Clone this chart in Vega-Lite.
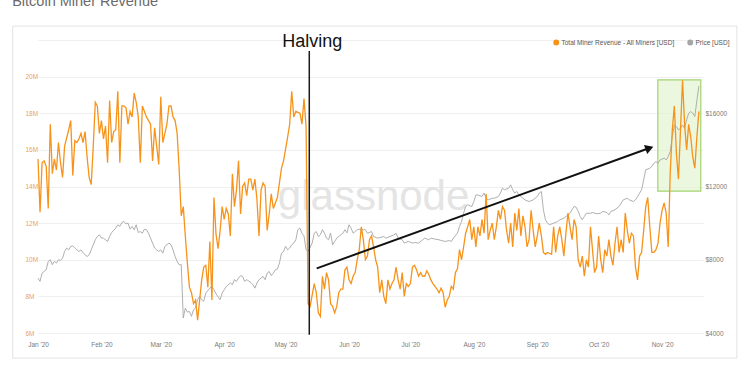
{
  "$schema": "https://vega.github.io/schema/vega-lite/v6.json",
  "width": 665,
  "height": 293,
  "autosize": {"type": "none"},
  "padding": {"left": 38, "top": 40, "right": 47, "bottom": 42},
  "background": "white",
  "title": {"text": "Bitcoin Miner Revenue", "anchor": "start", "frame": "bounds", "offset": 5, "fontSize": 14.5, "fontWeight": "normal", "color": "#6b6b6b", "font": "Liberation Sans", "baseline": "alphabetic"},
  "config": {"font": "Liberation Sans", "view": {"stroke": null}},
  "datasets": {
    "revenue": [
      {"date":"2020-01-01","usd_m":15.5},{"date":"2020-01-02","usd_m":12.6},{"date":"2020-01-03","usd_m":15.3},{"date":"2020-01-04","usd_m":15.4},{"date":"2020-01-05","usd_m":15.1},{"date":"2020-01-06","usd_m":12.8},{"date":"2020-01-07","usd_m":17.4},{"date":"2020-01-08","usd_m":14.7},{"date":"2020-01-09","usd_m":15.5},{"date":"2020-01-10","usd_m":14.9},{"date":"2020-01-11","usd_m":16.4},{"date":"2020-01-12","usd_m":15.3},{"date":"2020-01-13","usd_m":14.5},{"date":"2020-01-14","usd_m":16.2},{"date":"2020-01-16","usd_m":17.1},{"date":"2020-01-17","usd_m":17.6},{"date":"2020-01-18","usd_m":14.6},{"date":"2020-01-19","usd_m":16.5},{"date":"2020-01-20","usd_m":16.4},{"date":"2020-01-21","usd_m":16.6},{"date":"2020-01-22","usd_m":16.9},{"date":"2020-01-23","usd_m":16.4},{"date":"2020-01-24","usd_m":17.0},{"date":"2020-01-25","usd_m":15.6},{"date":"2020-01-26","usd_m":14.5},{"date":"2020-01-27","usd_m":14.1},{"date":"2020-01-28","usd_m":16.2},{"date":"2020-01-29","usd_m":18.6},{"date":"2020-01-30","usd_m":18.4},{"date":"2020-01-31","usd_m":16.9},
      {"date":"2020-02-01","usd_m":17.6},{"date":"2020-02-02","usd_m":16.6},{"date":"2020-02-03","usd_m":17.3},{"date":"2020-02-04","usd_m":15.3},{"date":"2020-02-05","usd_m":18.7},{"date":"2020-02-06","usd_m":16.4},{"date":"2020-02-07","usd_m":17.0},{"date":"2020-02-08","usd_m":17.1},{"date":"2020-02-09","usd_m":19.2},{"date":"2020-02-10","usd_m":15.3},{"date":"2020-02-11","usd_m":18.4},{"date":"2020-02-12","usd_m":18.4},{"date":"2020-02-13","usd_m":18.3},{"date":"2020-02-14","usd_m":17.4},{"date":"2020-02-15","usd_m":18.1},{"date":"2020-02-16","usd_m":17.8},{"date":"2020-02-17","usd_m":19.1},{"date":"2020-02-18","usd_m":18.6},{"date":"2020-02-19","usd_m":17.8},{"date":"2020-02-20","usd_m":15.3},{"date":"2020-02-21","usd_m":18.4},{"date":"2020-02-23","usd_m":17.8},{"date":"2020-02-25","usd_m":17.4},{"date":"2020-02-26","usd_m":15.4},{"date":"2020-02-27","usd_m":17.2},{"date":"2020-02-28","usd_m":16.2},{"date":"2020-02-29","usd_m":15.2},
      {"date":"2020-03-01","usd_m":18.9},{"date":"2020-03-02","usd_m":16.4},{"date":"2020-03-04","usd_m":17.4},{"date":"2020-03-05","usd_m":18.4},{"date":"2020-03-06","usd_m":18.4},{"date":"2020-03-07","usd_m":17.8},{"date":"2020-03-08","usd_m":17.6},{"date":"2020-03-09","usd_m":16.9},{"date":"2020-03-10","usd_m":14.9},{"date":"2020-03-11","usd_m":12.4},{"date":"2020-03-12","usd_m":12.9},{"date":"2020-03-13","usd_m":11.3},{"date":"2020-03-14","usd_m":9.8},{"date":"2020-03-15","usd_m":8.5},{"date":"2020-03-16","usd_m":8.2},{"date":"2020-03-17","usd_m":7.6},{"date":"2020-03-18","usd_m":7.8},{"date":"2020-03-19","usd_m":6.7},{"date":"2020-03-20","usd_m":7.8},{"date":"2020-03-21","usd_m":8.9},{"date":"2020-03-22","usd_m":9.6},{"date":"2020-03-23","usd_m":9.7},{"date":"2020-03-24","usd_m":8.5},{"date":"2020-03-25","usd_m":11.0},{"date":"2020-03-26","usd_m":7.8},{"date":"2020-03-27","usd_m":13.4},{"date":"2020-03-28","usd_m":11.4},{"date":"2020-03-29","usd_m":10.6},{"date":"2020-03-30","usd_m":11.6},{"date":"2020-03-31","usd_m":12.9},
      {"date":"2020-04-01","usd_m":12.2},{"date":"2020-04-02","usd_m":12.8},{"date":"2020-04-03","usd_m":12.5},{"date":"2020-04-04","usd_m":11.3},{"date":"2020-04-05","usd_m":14.7},{"date":"2020-04-06","usd_m":12.9},{"date":"2020-04-07","usd_m":13.8},{"date":"2020-04-08","usd_m":15.4},{"date":"2020-04-09","usd_m":12.5},{"date":"2020-04-10","usd_m":14.0},{"date":"2020-04-11","usd_m":14.2},{"date":"2020-04-12","usd_m":13.5},{"date":"2020-04-13","usd_m":14.4},{"date":"2020-04-14","usd_m":14.4},{"date":"2020-04-15","usd_m":13.8},{"date":"2020-04-16","usd_m":14.4},{"date":"2020-04-17","usd_m":13.3},{"date":"2020-04-18","usd_m":11.3},{"date":"2020-04-19","usd_m":13.8},{"date":"2020-04-20","usd_m":14.2},{"date":"2020-04-21","usd_m":14.0},{"date":"2020-04-22","usd_m":11.6},{"date":"2020-04-23","usd_m":12.5},{"date":"2020-04-24","usd_m":13.6},{"date":"2020-04-25","usd_m":12.8},{"date":"2020-04-27","usd_m":13.4},{"date":"2020-04-28","usd_m":14.2},{"date":"2020-04-29","usd_m":15.0},{"date":"2020-04-30","usd_m":15.4},
      {"date":"2020-05-02","usd_m":16.7},{"date":"2020-05-03","usd_m":17.4},{"date":"2020-05-04","usd_m":19.2},{"date":"2020-05-05","usd_m":17.8},{"date":"2020-05-06","usd_m":18.1},{"date":"2020-05-08","usd_m":18.0},{"date":"2020-05-09","usd_m":17.4},{"date":"2020-05-10","usd_m":18.8},{"date":"2020-05-11","usd_m":17.3},{"date":"2020-05-12","usd_m":7.6},{"date":"2020-05-13","usd_m":7.45},{"date":"2020-05-15","usd_m":8.7},{"date":"2020-05-16","usd_m":8.2},{"date":"2020-05-17","usd_m":7.1},{"date":"2020-05-18","usd_m":6.9},{"date":"2020-05-19","usd_m":9.1},{"date":"2020-05-20","usd_m":8.4},{"date":"2020-05-21","usd_m":9.3},{"date":"2020-05-22","usd_m":8.9},{"date":"2020-05-23","usd_m":7.6},{"date":"2020-05-24","usd_m":7.45},{"date":"2020-05-25","usd_m":7.1},{"date":"2020-05-26","usd_m":7.45},{"date":"2020-05-27","usd_m":8.2},{"date":"2020-05-28","usd_m":8.4},{"date":"2020-05-29","usd_m":8.4},{"date":"2020-05-30","usd_m":9.45},{"date":"2020-05-31","usd_m":9.6},
      {"date":"2020-06-01","usd_m":8.9},{"date":"2020-06-02","usd_m":8.7},{"date":"2020-06-03","usd_m":9.1},{"date":"2020-06-04","usd_m":9.3},{"date":"2020-06-05","usd_m":10.0},{"date":"2020-06-06","usd_m":10.55},{"date":"2020-06-07","usd_m":11.8},{"date":"2020-06-08","usd_m":11.1},{"date":"2020-06-09","usd_m":10.0},{"date":"2020-06-10","usd_m":10.2},{"date":"2020-06-11","usd_m":11.1},{"date":"2020-06-12","usd_m":11.3},{"date":"2020-06-13","usd_m":10.7},{"date":"2020-06-14","usd_m":10.0},{"date":"2020-06-15","usd_m":9.6},{"date":"2020-06-16","usd_m":8.2},{"date":"2020-06-17","usd_m":8.9},{"date":"2020-06-18","usd_m":8.0},{"date":"2020-06-19","usd_m":7.6},{"date":"2020-06-20","usd_m":8.9},{"date":"2020-06-21","usd_m":8.4},{"date":"2020-06-22","usd_m":8.7},{"date":"2020-06-23","usd_m":8.9},{"date":"2020-06-24","usd_m":9.6},{"date":"2020-06-25","usd_m":8.9},{"date":"2020-06-26","usd_m":8.4},{"date":"2020-06-27","usd_m":9.3},{"date":"2020-06-28","usd_m":8.0},{"date":"2020-06-29","usd_m":8.7},{"date":"2020-06-30","usd_m":8.55},
      {"date":"2020-07-01","usd_m":8.7},{"date":"2020-07-02","usd_m":9.6},{"date":"2020-07-03","usd_m":9.7},{"date":"2020-07-04","usd_m":9.45},{"date":"2020-07-05","usd_m":9.1},{"date":"2020-07-06","usd_m":9.3},{"date":"2020-07-07","usd_m":9.1},{"date":"2020-07-08","usd_m":9.1},{"date":"2020-07-09","usd_m":9.4},{"date":"2020-07-10","usd_m":9.2},{"date":"2020-07-11","usd_m":8.9},{"date":"2020-07-12","usd_m":8.7},{"date":"2020-07-13","usd_m":8.55},{"date":"2020-07-14","usd_m":8.4},{"date":"2020-07-15","usd_m":8.2},{"date":"2020-07-16","usd_m":8.45},{"date":"2020-07-17","usd_m":8.2},{"date":"2020-07-18","usd_m":7.4},{"date":"2020-07-19","usd_m":7.8},{"date":"2020-07-20","usd_m":8.0},{"date":"2020-07-21","usd_m":8.55},{"date":"2020-07-22","usd_m":8.4},{"date":"2020-07-23","usd_m":9.3},{"date":"2020-07-24","usd_m":9.5},{"date":"2020-07-25","usd_m":10.55},{"date":"2020-07-26","usd_m":10.0},{"date":"2020-07-27","usd_m":10.7},{"date":"2020-07-28","usd_m":11.45},{"date":"2020-07-29","usd_m":11.8},{"date":"2020-07-30","usd_m":12.2},{"date":"2020-07-31","usd_m":11.1},
      {"date":"2020-08-01","usd_m":11.8},{"date":"2020-08-02","usd_m":10.7},{"date":"2020-08-03","usd_m":11.8},{"date":"2020-08-04","usd_m":11.3},{"date":"2020-08-05","usd_m":12.2},{"date":"2020-08-06","usd_m":11.45},{"date":"2020-08-07","usd_m":13.6},{"date":"2020-08-08","usd_m":11.1},{"date":"2020-08-09","usd_m":11.6},{"date":"2020-08-10","usd_m":12.0},{"date":"2020-08-11","usd_m":11.1},{"date":"2020-08-12","usd_m":11.8},{"date":"2020-08-13","usd_m":12.7},{"date":"2020-08-14","usd_m":12.2},{"date":"2020-08-15","usd_m":12.9},{"date":"2020-08-16","usd_m":12.7},{"date":"2020-08-17","usd_m":11.6},{"date":"2020-08-18","usd_m":10.9},{"date":"2020-08-19","usd_m":12.0},{"date":"2020-08-20","usd_m":10.7},{"date":"2020-08-21","usd_m":12.55},{"date":"2020-08-22","usd_m":11.6},{"date":"2020-08-23","usd_m":12.8},{"date":"2020-08-24","usd_m":11.3},{"date":"2020-08-25","usd_m":12.4},{"date":"2020-08-26","usd_m":11.8},{"date":"2020-08-27","usd_m":10.7},{"date":"2020-08-28","usd_m":11.1},{"date":"2020-08-29","usd_m":12.7},{"date":"2020-08-30","usd_m":11.6},{"date":"2020-08-31","usd_m":10.7},
      {"date":"2020-09-01","usd_m":11.3},{"date":"2020-09-02","usd_m":12.0},{"date":"2020-09-03","usd_m":11.3},{"date":"2020-09-04","usd_m":10.4},{"date":"2020-09-05","usd_m":10.3},{"date":"2020-09-06","usd_m":10.4},{"date":"2020-09-08","usd_m":10.3},{"date":"2020-09-09","usd_m":11.8},{"date":"2020-09-10","usd_m":10.4},{"date":"2020-09-11","usd_m":11.3},{"date":"2020-09-12","usd_m":11.8},{"date":"2020-09-13","usd_m":11.1},{"date":"2020-09-14","usd_m":10.2},{"date":"2020-09-15","usd_m":11.45},{"date":"2020-09-16","usd_m":12.55},{"date":"2020-09-17","usd_m":11.8},{"date":"2020-09-18","usd_m":11.1},{"date":"2020-09-19","usd_m":12.2},{"date":"2020-09-20","usd_m":11.8},{"date":"2020-09-21","usd_m":10.0},{"date":"2020-09-22","usd_m":9.6},{"date":"2020-09-23","usd_m":10.2},{"date":"2020-09-24","usd_m":9.1},{"date":"2020-09-25","usd_m":10.0},{"date":"2020-09-26","usd_m":9.6},{"date":"2020-09-27","usd_m":11.8},{"date":"2020-09-28","usd_m":10.55},{"date":"2020-09-29","usd_m":9.3},{"date":"2020-09-30","usd_m":9.6},
      {"date":"2020-10-01","usd_m":11.3},{"date":"2020-10-02","usd_m":10.0},{"date":"2020-10-03","usd_m":9.3},{"date":"2020-10-04","usd_m":10.55},{"date":"2020-10-05","usd_m":10.2},{"date":"2020-10-06","usd_m":11.1},{"date":"2020-10-07","usd_m":10.2},{"date":"2020-10-08","usd_m":9.7},{"date":"2020-10-09","usd_m":10.9},{"date":"2020-10-10","usd_m":11.8},{"date":"2020-10-11","usd_m":10.4},{"date":"2020-10-12","usd_m":11.1},{"date":"2020-10-13","usd_m":10.4},{"date":"2020-10-14","usd_m":12.55},{"date":"2020-10-15","usd_m":11.6},{"date":"2020-10-16","usd_m":10.9},{"date":"2020-10-17","usd_m":11.45},{"date":"2020-10-18","usd_m":11.3},{"date":"2020-10-19","usd_m":9.6},{"date":"2020-10-20","usd_m":8.9},{"date":"2020-10-21","usd_m":10.2},{"date":"2020-10-22","usd_m":10.4},{"date":"2020-10-23","usd_m":11.6},{"date":"2020-10-24","usd_m":12.9},{"date":"2020-10-25","usd_m":13.4},{"date":"2020-10-26","usd_m":11.8},{"date":"2020-10-27","usd_m":10.4},{"date":"2020-10-28","usd_m":10.4},{"date":"2020-10-29","usd_m":10.55},{"date":"2020-10-30","usd_m":10.9},{"date":"2020-10-31","usd_m":12.0},
      {"date":"2020-11-01","usd_m":12.7},{"date":"2020-11-02","usd_m":13.1},{"date":"2020-11-03","usd_m":12.55},{"date":"2020-11-04","usd_m":10.7},{"date":"2020-11-05","usd_m":14.8},{"date":"2020-11-06","usd_m":17.1},{"date":"2020-11-07","usd_m":18.4},{"date":"2020-11-08","usd_m":15.8},{"date":"2020-11-09","usd_m":14.4},{"date":"2020-11-10","usd_m":17.1},{"date":"2020-11-11","usd_m":19.8},{"date":"2020-11-12","usd_m":17.4},{"date":"2020-11-13","usd_m":16.0},{"date":"2020-11-14","usd_m":17.4},{"date":"2020-11-15","usd_m":16.7},{"date":"2020-11-16","usd_m":15.6},{"date":"2020-11-17","usd_m":15.0},{"date":"2020-11-18","usd_m":16.7},{"date":"2020-11-19","usd_m":18.1}
    ],
    "price": [
      {"date":"2020-01-01","usd":7000},{"date":"2020-01-02","usd":6820},{"date":"2020-01-03","usd":7270},{"date":"2020-01-04","usd":7360},{"date":"2020-01-05","usd":7450},{"date":"2020-01-06","usd":7910},{"date":"2020-01-07","usd":8000},{"date":"2020-01-08","usd":7730},{"date":"2020-01-09","usd":7910},{"date":"2020-01-10","usd":7820},{"date":"2020-01-11","usd":8000},{"date":"2020-01-12","usd":7960},{"date":"2020-01-13","usd":8090},{"date":"2020-01-14","usd":8450},{"date":"2020-01-15","usd":8640},{"date":"2020-01-16","usd":8540},{"date":"2020-01-17","usd":8730},{"date":"2020-01-18","usd":8760},{"date":"2020-01-19","usd":8640},{"date":"2020-01-20","usd":8540},{"date":"2020-01-21","usd":8450},{"date":"2020-01-22","usd":8540},{"date":"2020-01-23","usd":8400},{"date":"2020-01-24","usd":8270},{"date":"2020-01-25","usd":8180},{"date":"2020-01-26","usd":8270},{"date":"2020-01-27","usd":8540},{"date":"2020-01-29","usd":9090},{"date":"2020-01-30","usd":9270},{"date":"2020-01-31","usd":9360},
      {"date":"2020-02-01","usd":9180},{"date":"2020-02-02","usd":9180},{"date":"2020-02-03","usd":9090},{"date":"2020-02-04","usd":9000},{"date":"2020-02-05","usd":9270},{"date":"2020-02-06","usd":9490},{"date":"2020-02-07","usd":9600},{"date":"2020-02-08","usd":9730},{"date":"2020-02-09","usd":9910},{"date":"2020-02-10","usd":9820},{"date":"2020-02-11","usd":10030},{"date":"2020-02-12","usd":10090},{"date":"2020-02-13","usd":9960},{"date":"2020-02-14","usd":10000},{"date":"2020-02-15","usd":9670},{"date":"2020-02-16","usd":9820},{"date":"2020-02-17","usd":9640},{"date":"2020-02-18","usd":9910},{"date":"2020-02-19","usd":9490},{"date":"2020-02-20","usd":9540},{"date":"2020-02-21","usd":9450},{"date":"2020-02-22","usd":9670},{"date":"2020-02-23","usd":9640},{"date":"2020-02-24","usd":9450},{"date":"2020-02-25","usd":9180},{"date":"2020-02-26","usd":8910},{"date":"2020-02-27","usd":8640},{"date":"2020-02-28","usd":8540},{"date":"2020-02-29","usd":8450},
      {"date":"2020-03-01","usd":8540},{"date":"2020-03-02","usd":8360},{"date":"2020-03-03","usd":8730},{"date":"2020-03-04","usd":8820},{"date":"2020-03-05","usd":8910},{"date":"2020-03-06","usd":8820},{"date":"2020-03-07","usd":8540},{"date":"2020-03-08","usd":8180},{"date":"2020-03-09","usd":7910},{"date":"2020-03-10","usd":7730},{"date":"2020-03-11","usd":7730},{"date":"2020-03-12","usd":4820},{"date":"2020-03-13","usd":5360},{"date":"2020-03-14","usd":5140},{"date":"2020-03-15","usd":5180},{"date":"2020-03-16","usd":4910},{"date":"2020-03-17","usd":5270},{"date":"2020-03-18","usd":5360},{"date":"2020-03-19","usd":5820},{"date":"2020-03-20","usd":6000},{"date":"2020-03-21","usd":5820},{"date":"2020-03-22","usd":5730},{"date":"2020-03-23","usd":6180},{"date":"2020-03-25","usd":6450},{"date":"2020-03-26","usd":6540},{"date":"2020-03-27","usd":6360},{"date":"2020-03-28","usd":6140},{"date":"2020-03-30","usd":5820},{"date":"2020-03-31","usd":6180},
      {"date":"2020-04-01","usd":6360},{"date":"2020-04-02","usd":6540},{"date":"2020-04-04","usd":6730},{"date":"2020-04-05","usd":6640},{"date":"2020-04-06","usd":6910},{"date":"2020-04-07","usd":6820},{"date":"2020-04-08","usd":7000},{"date":"2020-04-09","usd":7130},{"date":"2020-04-10","usd":7090},{"date":"2020-04-11","usd":6820},{"date":"2020-04-12","usd":6910},{"date":"2020-04-14","usd":6760},{"date":"2020-04-15","usd":6640},{"date":"2020-04-16","usd":6450},{"date":"2020-04-17","usd":6730},{"date":"2020-04-18","usd":6910},{"date":"2020-04-19","usd":7000},{"date":"2020-04-20","usd":7090},{"date":"2020-04-21","usd":6910},{"date":"2020-04-22","usd":7270},{"date":"2020-04-23","usd":7360},{"date":"2020-04-24","usd":7130},{"date":"2020-04-25","usd":7270},{"date":"2020-04-26","usd":7450},{"date":"2020-04-27","usd":7490},{"date":"2020-04-28","usd":7820},{"date":"2020-04-29","usd":8360},{"date":"2020-04-30","usd":8450},
      {"date":"2020-05-01","usd":8730},{"date":"2020-05-02","usd":8540},{"date":"2020-05-03","usd":8640},{"date":"2020-05-04","usd":8820},{"date":"2020-05-05","usd":8910},{"date":"2020-05-06","usd":9090},{"date":"2020-05-07","usd":9640},{"date":"2020-05-08","usd":9730},{"date":"2020-05-09","usd":9450},{"date":"2020-05-10","usd":9300},{"date":"2020-05-11","usd":8540},{"date":"2020-05-12","usd":8450},{"date":"2020-05-14","usd":8910},{"date":"2020-05-15","usd":9450},{"date":"2020-05-16","usd":9540},{"date":"2020-05-17","usd":9270},{"date":"2020-05-18","usd":9360},{"date":"2020-05-19","usd":9640},{"date":"2020-05-20","usd":9450},{"date":"2020-05-21","usd":9180},{"date":"2020-05-22","usd":9090},{"date":"2020-05-23","usd":9450},{"date":"2020-05-24","usd":8820},{"date":"2020-05-25","usd":9000},{"date":"2020-05-26","usd":9180},{"date":"2020-05-27","usd":9270},{"date":"2020-05-28","usd":9360},{"date":"2020-05-29","usd":9450},{"date":"2020-05-30","usd":9640},{"date":"2020-05-31","usd":9470},
      {"date":"2020-06-01","usd":9910},{"date":"2020-06-02","usd":9730},{"date":"2020-06-03","usd":9450},{"date":"2020-06-04","usd":9540},{"date":"2020-06-05","usd":9640},{"date":"2020-06-06","usd":9670},{"date":"2020-06-08","usd":9640},{"date":"2020-06-09","usd":9640},{"date":"2020-06-10","usd":9450},{"date":"2020-06-12","usd":9540},{"date":"2020-06-13","usd":9270},{"date":"2020-06-15","usd":9180},{"date":"2020-06-18","usd":9270},{"date":"2020-06-19","usd":9180},{"date":"2020-06-21","usd":9270},{"date":"2020-06-23","usd":9360},{"date":"2020-06-24","usd":9450},{"date":"2020-06-25","usd":9180},{"date":"2020-06-27","usd":9090},{"date":"2020-06-28","usd":8910},{"date":"2020-06-30","usd":9000},
      {"date":"2020-07-02","usd":8910},{"date":"2020-07-03","usd":8940},{"date":"2020-07-05","usd":8910},{"date":"2020-07-07","usd":9090},{"date":"2020-07-08","usd":9180},{"date":"2020-07-10","usd":9090},{"date":"2020-07-11","usd":9180},{"date":"2020-07-13","usd":9130},{"date":"2020-07-15","usd":9090},{"date":"2020-07-16","usd":9050},{"date":"2020-07-18","usd":9000},{"date":"2020-07-20","usd":9050},{"date":"2020-07-21","usd":9000},{"date":"2020-07-22","usd":9180},{"date":"2020-07-24","usd":9450},{"date":"2020-07-25","usd":9820},{"date":"2020-07-26","usd":10090},{"date":"2020-07-27","usd":10540},{"date":"2020-07-28","usd":10910},{"date":"2020-07-29","usd":11000},{"date":"2020-07-31","usd":10910},
      {"date":"2020-08-01","usd":11180},{"date":"2020-08-02","usd":11540},{"date":"2020-08-03","usd":11540},{"date":"2020-08-05","usd":11450},{"date":"2020-08-06","usd":11640},{"date":"2020-08-07","usd":11360},{"date":"2020-08-08","usd":11270},{"date":"2020-08-10","usd":11360},{"date":"2020-08-11","usd":11360},{"date":"2020-08-13","usd":11450},{"date":"2020-08-14","usd":11640},{"date":"2020-08-15","usd":11910},{"date":"2020-08-16","usd":11820},{"date":"2020-08-18","usd":11910},{"date":"2020-08-19","usd":12090},{"date":"2020-08-20","usd":11820},{"date":"2020-08-21","usd":11640},{"date":"2020-08-22","usd":11730},{"date":"2020-08-23","usd":11540},{"date":"2020-08-24","usd":11450},{"date":"2020-08-26","usd":11270},{"date":"2020-08-28","usd":11180},{"date":"2020-08-30","usd":11270},
      {"date":"2020-09-01","usd":11450},{"date":"2020-09-02","usd":11640},{"date":"2020-09-03","usd":11730},{"date":"2020-09-04","usd":10730},{"date":"2020-09-05","usd":10180},{"date":"2020-09-06","usd":10000},{"date":"2020-09-07","usd":9910},{"date":"2020-09-09","usd":10000},{"date":"2020-09-11","usd":10090},{"date":"2020-09-12","usd":10180},{"date":"2020-09-14","usd":10270},{"date":"2020-09-15","usd":10360},{"date":"2020-09-17","usd":10540},{"date":"2020-09-18","usd":10730},{"date":"2020-09-19","usd":10910},{"date":"2020-09-20","usd":10870},{"date":"2020-09-21","usd":10640},{"date":"2020-09-22","usd":10360},{"date":"2020-09-23","usd":10180},{"date":"2020-09-24","usd":10360},{"date":"2020-09-25","usd":10540},{"date":"2020-09-27","usd":10540},{"date":"2020-09-28","usd":10580},{"date":"2020-09-30","usd":10510},
      {"date":"2020-10-02","usd":10540},{"date":"2020-10-03","usd":10640},{"date":"2020-10-05","usd":10580},{"date":"2020-10-06","usd":10450},{"date":"2020-10-07","usd":10640},{"date":"2020-10-09","usd":10730},{"date":"2020-10-11","usd":10910},{"date":"2020-10-12","usd":11090},{"date":"2020-10-13","usd":11270},{"date":"2020-10-15","usd":11360},{"date":"2020-10-16","usd":11270},{"date":"2020-10-18","usd":11180},{"date":"2020-10-19","usd":11270},{"date":"2020-10-20","usd":11450},{"date":"2020-10-22","usd":11820},{"date":"2020-10-23","usd":12360},{"date":"2020-10-24","usd":12910},{"date":"2020-10-26","usd":13000},{"date":"2020-10-27","usd":13090},{"date":"2020-10-28","usd":13270},{"date":"2020-10-29","usd":13360},{"date":"2020-10-30","usd":13270},{"date":"2020-10-31","usd":13450},
      {"date":"2020-11-02","usd":13550},{"date":"2020-11-03","usd":13450},{"date":"2020-11-04","usd":13640},{"date":"2020-11-05","usd":13910},{"date":"2020-11-06","usd":14730},{"date":"2020-11-07","usd":15360},{"date":"2020-11-08","usd":15270},{"date":"2020-11-09","usd":15090},{"date":"2020-11-10","usd":15180},{"date":"2020-11-11","usd":15360},{"date":"2020-11-12","usd":15180},{"date":"2020-11-13","usd":15640},{"date":"2020-11-14","usd":16000},{"date":"2020-11-15","usd":16090},{"date":"2020-11-16","usd":16000},{"date":"2020-11-17","usd":15820},{"date":"2020-11-18","usd":16700},{"date":"2020-11-19","usd":17490}
    ],
    "card": [{"date": "2019-12-19T15:00:00Z", "date_end": "2020-12-07T14:00:00Z"}],
    "watermark": [{"date": "2020-06-13T00:00:00Z", "label": "glassnode"}],
    "highlight": [{"date": "2020-10-29T22:00:00Z", "date_end": "2020-11-19T22:00:00Z"}],
    "halving": [{"date": "2020-05-12T14:00:00Z", "event": "Halving"}],
    "trend": [
      {"date": "2020-05-16T05:00:00Z", "usd_m": 9.53},
      {"date": "2020-10-25T20:00:00Z", "usd_m": 16.1}
    ],
    "trend_head": [{"date": "2020-10-25T20:00:00Z", "usd_m": 16.1}]
  },
  "encoding": {
    "x": {
      "field": "date", "type": "temporal",
      "scale": {"type": "utc", "domain": [{"year": 2020, "month": 1, "date": 1, "utc": true}, {"year": 2020, "month": 11, "date": 21, "utc": true}]},
      "axis": {
        "values": [
          {"year": 2020, "month": 1, "date": 1, "utc": true}, {"year": 2020, "month": 2, "date": 1, "utc": true}, {"year": 2020, "month": 3, "date": 1, "utc": true}, {"year": 2020, "month": 4, "date": 1, "utc": true}, {"year": 2020, "month": 5, "date": 1, "utc": true}, {"year": 2020, "month": 6, "date": 1, "utc": true}, {"year": 2020, "month": 7, "date": 1, "utc": true}, {"year": 2020, "month": 8, "date": 1, "utc": true}, {"year": 2020, "month": 9, "date": 1, "utc": true}, {"year": 2020, "month": 10, "date": 1, "utc": true}, {"year": 2020, "month": 11, "date": 1, "utc": true}
        ],
        "format": "%b '%y", "title": null, "domain": false, "ticks": false, "tickSize": 0, "grid": false,
        "labelColor": "#7a7a7a", "labelFontSize": 6.5, "labelFont": "Liberation Sans", "labelPadding": 8, "labelFlush": false, "labelOverlap": false
      }
    }
  },
  "resolve": {"scale": {"y": "independent"}, "axis": {"y": "independent"}},
  "layer": [
    {
      "data": {"name": "card"},
      "mark": {"type": "rect", "fill": "white", "fillOpacity": 0, "stroke": "#e2e2e2", "strokeWidth": 1},
      "encoding": {
        "x2": {"field": "date_end"},
        "y": {"datum": 22.76, "type": "quantitative", "scale": {"domain": [6, 22], "nice": false, "zero": false}, "axis": null},
        "y2": {"datum": 4.63}
      }
    },
    {
      "data": {"name": "watermark"},
      "mark": {"type": "text", "fontSize": 42, "color": "#e4e4e4", "align": "center", "baseline": "alphabetic", "font": "Liberation Sans"},
      "encoding": {
        "y": {"datum": 12.72, "type": "quantitative", "scale": {"domain": [6, 22], "nice": false, "zero": false}, "axis": null},
        "text": {"field": "label"}
      }
    },
    {
      "data": {"name": "highlight"},
      "mark": {"type": "rect", "fill": "#e3f4d2", "fillOpacity": 0.7, "stroke": "#a3d46e", "strokeWidth": 1.2},
      "encoding": {
        "x2": {"field": "date_end"},
        "y": {"datum": 19.82, "type": "quantitative", "scale": {"domain": [6, 22], "nice": false, "zero": false}, "axis": null},
        "y2": {"datum": 13.75}
      }
    },
    {
      "data": {"name": "price"},
      "mark": {"type": "line", "strokeWidth": 0.9},
      "encoding": {
        "y": {"field": "usd", "type": "quantitative", "scale": {"domain": [4000, 20000], "nice": false, "zero": false},
          "axis": {"orient": "right", "values": [4000, 8000, 12000, 16000], "format": "$d", "title": null, "grid": false, "domain": false, "ticks": false, "tickSize": 0, "labelPadding": 2, "labelColor": "#7a7a7a", "labelFontSize": 6.5, "labelFont": "Liberation Sans"}},
        "color": {"datum": "Price [USD]", "type": "nominal"}
      }
    },
    {
      "data": {"name": "revenue"},
      "mark": {"type": "line", "strokeWidth": 1.3},
      "encoding": {
        "y": {"field": "usd_m", "type": "quantitative", "scale": {"domain": [6, 22], "nice": false, "zero": false},
          "axis": {"orient": "left", "values": [6, 8, 10, 12, 14, 16, 18, 20, 22], "labelExpr": "datum.value > 21 ? '' : datum.value + 'M'", "title": null, "grid": true, "gridColor": "#efefef", "gridWidth": 1, "domain": false, "ticks": false, "tickSize": 0, "labelAlign": "left", "labelPadding": 13, "labelColor": "#e8a45c", "labelFontSize": 6.5, "labelFont": "Liberation Sans"}},
        "color": {
          "datum": "Total Miner Revenue - All Miners [USD]", "type": "nominal",
          "scale": {"domain": ["Total Miner Revenue - All Miners [USD]", "Price [USD]"], "range": ["#f7931a", "#a6a6a6"]},
          "legend": {"orient": "none", "legendX": 515, "legendY": -1, "direction": "horizontal", "title": null, "symbolType": "circle", "symbolSize": 20, "symbolStrokeWidth": 1.5, "labelFontSize": 6.5, "labelColor": "#555555", "labelFont": "Liberation Sans", "columnPadding": 10, "labelOffset": 2, "padding": 0, "rowPadding": 0,
            "encode": {"symbols": {"update": {"fill": {"scale": "color", "field": "value"}, "opacity": {"value": 1}}}}}
        }
      }
    },
    {
      "data": {"name": "halving"},
      "mark": {"type": "rule", "color": "#1a1a1a", "strokeWidth": 1.5},
      "encoding": {
        "y": {"datum": 21.4, "type": "quantitative", "scale": {"domain": [6, 22], "nice": false, "zero": false}, "axis": null},
        "y2": {"datum": 5.9}
      }
    },
    {
      "data": {"name": "halving"},
      "mark": {"type": "text", "fontSize": 18, "color": "#111111", "align": "center", "baseline": "alphabetic", "dx": 3, "font": "Liberation Sans"},
      "encoding": {
        "y": {"datum": 21.6, "type": "quantitative", "scale": {"domain": [6, 22], "nice": false, "zero": false}, "axis": null},
        "text": {"field": "event"}
      }
    },
    {
      "data": {"name": "trend"},
      "mark": {"type": "line", "color": "#111111", "strokeWidth": 2},
      "encoding": {
        "y": {"field": "usd_m", "type": "quantitative", "scale": {"domain": [6, 22], "nice": false, "zero": false}, "axis": null}
      }
    },
    {
      "data": {"name": "trend_head"},
      "mark": {"type": "point", "shape": "triangle-right", "filled": true, "color": "#111111", "size": 90, "angle": 340.14, "opacity": 1},
      "encoding": {
        "y": {"field": "usd_m", "type": "quantitative", "scale": {"domain": [6, 22], "nice": false, "zero": false}, "axis": null}
      }
    }
  ]
}
